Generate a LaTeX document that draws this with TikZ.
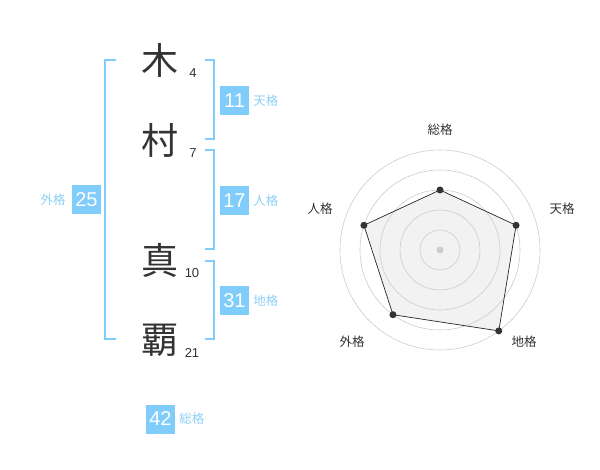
\documentclass[tikz,border=0pt]{standalone}
\usepackage{fontspec}
\setmainfont{Liberation Sans}
\newfontfamily\jpfont{Noto Sans CJK JP}
\usetikzlibrary{calc,positioning}
\definecolor{kakublue}{RGB}{128,204,250}
\definecolor{kakulabel}{RGB}{140,208,245}
\definecolor{inkgray}{RGB}{51,51,51}
\definecolor{ringgray}{RGB}{204,204,204}
\definecolor{areagray}{RGB}{242,242,242}
\def\ringat(#1:#2){\draw[ringgray,line width=0.6pt] (#1) circle[radius=#2pt];}

\begin{document}
\begin{tikzpicture}[x=1pt,y=-1pt,
	kanji/.style={inner sep=0pt,text=inkgray,font=\jpfont\fontsize{37}{37}\selectfont},
	strokes/.style={inner sep=0pt,text=inkgray,font=\fontsize{13}{13}\selectfont},
	numbox/.style={fill=kakublue,text=white,minimum size=29pt,inner sep=0pt,font=\fontsize{20}{20}\selectfont},
	kakutext/.style={inner sep=0pt,text=kakulabel,font=\jpfont\fontsize{12.5}{12.5}\selectfont},
	axistext/.style={inner sep=0pt,text=inkgray,font=\jpfont\fontsize{12.5}{12.5}\selectfont},
	bracket/.style={kakublue,line width=1.8pt}]
		\useasboundingbox (0,0) rectangle (600,470);
		%%%%% NAME %%%%%
		\node[kanji] (ki) at (160,60) {木};
		\node[kanji] (mura) at (160,140) {村};
		\node[kanji] (ma) at (160,260) {真};
		\node[kanji] (ha) at (160,340) {覇};
		
		\node[strokes] (kiN) at (193,73) {4};
		\node[strokes] (muraN) at (193,153) {7};
		\node[strokes] (maN) at (192,273) {10};
		\node[strokes] (haN) at (192,353) {21};
		
		%%%%% BRACKETS %%%%%
		\draw[bracket] (116,60) -- (105,60) -- (105,339) -- (116,339);
		\draw[bracket] (205,60) -- (214,60) -- (214,139) -- (205,139);
		\draw[bracket] (205,150) -- (214,150) -- (214,249) -- (205,249);
		\draw[bracket] (205,261) -- (214,261) -- (214,339) -- (205,339);
		
		%%%%% KAKU %%%%%
		\node[numbox] (tenB) at (234.5,100.5) {11};
		\node[kakutext, right=4pt of tenB] (tenL) {天格};
		\node[numbox] (jinB) at (234.5,200.5) {17};
		\node[kakutext, right=4pt of jinB] (jinL) {人格};
		\node[numbox] (chiB) at (234.5,300.5) {31};
		\node[kakutext, right=4pt of chiB] (chiL) {地格};
		\node[numbox] (gaiB) at (86.5,200) {25};
		\node[kakutext, left=6pt of gaiB] (gaiL) {外格};
		\node[numbox] (souB) at (160.5,419) {42};
		\node[kakutext, right=4pt of souB] (souL) {総格};
		
		%%%%% RADAR %%%%%
		\coordinate (hub) at (440,250);
		\coordinate (souP) at (440,190);
		\coordinate (tenP) at (516.08,225.28);
		\coordinate (chiP) at (498.78,330.90);
		\coordinate (gaiP) at (392.98,314.72);
		\coordinate (jinP) at (363.92,225.28);
		
		\fill[areagray] (souP) -- (tenP) -- (chiP) -- (gaiP) -- (jinP) -- cycle;
		\ringat(hub:20)
		\ringat(hub:40)
		\ringat(hub:60)
		\ringat(hub:80)
		\ringat(hub:100)
		\fill[ringgray] (hub) circle[radius=3.5pt];
		\draw[black!85,line width=0.7pt] (souP) -- (tenP) -- (chiP) -- (gaiP) -- (jinP) -- cycle;
		\fill[inkgray] (souP) circle[radius=3.5pt];
		\fill[inkgray] (tenP) circle[radius=3.5pt];
		\fill[inkgray] (chiP) circle[radius=3.5pt];
		\fill[inkgray] (gaiP) circle[radius=3.5pt];
		\fill[inkgray] (jinP) circle[radius=3.5pt];
		
		\node[axistext] (souA) at (440,130) {総格};
		\node[axistext] (tenA) at (562,209) {天格};
		\node[axistext] (chiA) at (524,342) {地格};
		\node[axistext] (gaiA) at (352,342) {外格};
		\node[axistext] (jinA) at (320,209) {人格};
		%%%%% END %%%%%
	\end{tikzpicture}
\end{document}
